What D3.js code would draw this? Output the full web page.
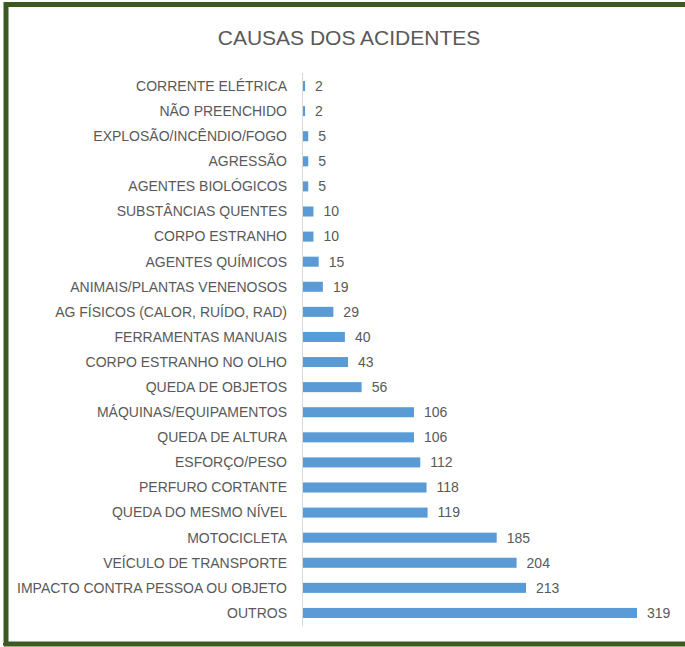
<!DOCTYPE html>
<html>
<head>
<meta charset="utf-8">
<script src="https://cdn.jsdelivr.net/npm/d3@7"></script>
<style>
  body { margin: 0; background: #fff; }
  svg text { font-family: "Liberation Sans Narrow", "Liberation Sans", Arial, sans-serif; fill: #595959; }
</style>
</head>
<body>
<svg id="chart" width="685" height="647"></svg>
<script>
// causas, de cima para baixo
var causas = [
  "CORRENTE ELÉTRICA", "NÃO PREENCHIDO", "EXPLOSÃO/INCÊNDIO/FOGO", "AGRESSÃO",
  "AGENTES BIOLÓGICOS", "SUBSTÂNCIAS QUENTES", "CORPO ESTRANHO", "AGENTES QUÍMICOS",
  "ANIMAIS/PLANTAS VENENOSOS", "AG FÍSICOS (CALOR, RUÍDO, RAD)", "FERRAMENTAS MANUAIS",
  "CORPO ESTRANHO NO OLHO", "QUEDA DE OBJETOS", "MÁQUINAS/EQUIPAMENTOS", "QUEDA DE ALTURA",
  "ESFORÇO/PESO", "PERFURO CORTANTE", "QUEDA DO MESMO NÍVEL", "MOTOCICLETA",
  "VEÍCULO DE TRANSPORTE", "IMPACTO CONTRA PESSOA OU OBJETO", "OUTROS"
];
var totais = [2, 2, 5, 5, 5, 10, 10, 15, 19, 29, 40, 43, 56, 106, 106, 112, 118, 119, 185, 204, 213, 319];
var titulo = "CAUSAS DOS ACIDENTES";

var svg = d3.select("#chart");

// moldura verde
svg.append("rect").attr("x", 6).attr("y", 4.5).attr("width", 690).attr("height", 639.5)
  .attr("fill", "none").attr("stroke", "#3b5a22").attr("stroke-width", 5);
svg.append("line").attr("x1", 3).attr("x2", 685).attr("y1", 644).attr("y2", 644)
  .attr("stroke", "#3b5a22").attr("stroke-width", 2);

svg.append("text").attr("x", 349).attr("y", 45).attr("text-anchor", "middle")
  .style("font-family", "'Liberation Sans', Arial, sans-serif")
  .style("font-size", "21px").text(titulo);

var x = d3.scaleLinear().domain([0, 319]).range([303, 637]);
var y = d3.scaleBand().domain(causas).range([73.5, 625.5]).paddingInner(0.6).paddingOuter(0.3);

svg.append("g").selectAll("rect").data(causas).join("rect")
  .attr("x", x(0))
  .attr("y", function (d) { return y(d); })
  .attr("width", function (d, i) { return x(totais[i]) - x(0); })
  .attr("height", y.bandwidth())
  .attr("fill", "#5b9bd5");

svg.append("line").attr("x1", 302.5).attr("x2", 302.5).attr("y1", 73).attr("y2", 626)
  .attr("stroke", "#d9d9d9").attr("stroke-width", 1);

svg.append("g").selectAll("text").data(causas).join("text")
  .attr("x", 287)
  .attr("y", function (d) { return y(d) + y.bandwidth() / 2; })
  .attr("dy", "0.35em")
  .attr("text-anchor", "end")
  .style("font-size", "14px")
  .text(function (d) { return d; });

svg.append("g").selectAll("text").data(causas).join("text")
  .attr("x", function (d, i) { return x(totais[i]) + 10; })
  .attr("y", function (d) { return y(d) + y.bandwidth() / 2; })
  .attr("dy", "0.35em")
  .style("font-size", "14px")
  .text(function (d, i) { return totais[i]; });
</script>
</body>
</html>
